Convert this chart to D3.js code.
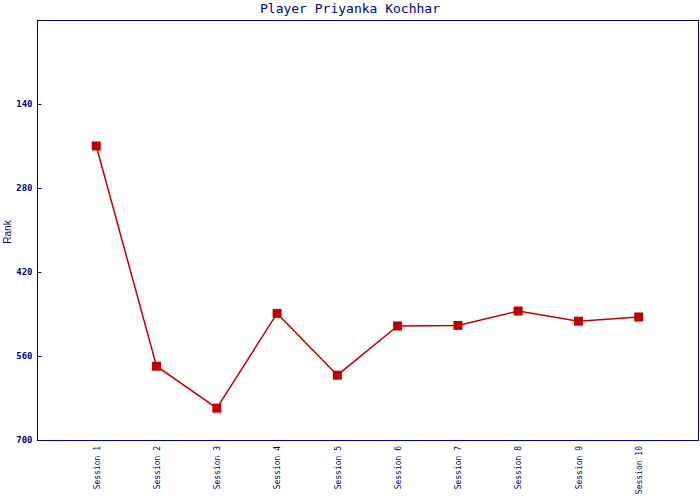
<!DOCTYPE html>
<html>
<head>
<meta charset="utf-8">
<script src="https://cdn.jsdelivr.net/npm/d3@7"></script>
<style>
  body { margin: 0; background: #fff; }
  svg { display: block; }
</style>
</head>
<body>
<svg id="chart" width="700" height="500"></svg>
<script>
const title = "Player Priyanka Kochhar";
const yLabel = "Rank";
const sessions = ["Session 1","Session 2","Session 3","Session 4","Session 5","Session 6","Session 7","Session 8","Session 9","Session 10"];
const ranks = [210, 577, 647, 489, 592, 510, 509, 485, 502, 495];
const yTicks = [140, 280, 420, 560, 700];

const W = 700, H = 500;
const m = { left: 37, right: 1, top: 20, bottom: 60 };
const svg = d3.select("#chart");
const navy = "#000080";
const red = "#c00000";

const x = d3.scaleLinear().domain([0, sessions.length + 1]).range([m.left - 1, W - m.right]);
const y = d3.scaleLinear().domain([0, 700]).range([m.top, H - m.bottom]);

// frame
svg.append("rect")
  .attr("x", m.left + 0.5).attr("y", m.top + 0.5)
  .attr("width", W - m.right - m.left - 1).attr("height", H - m.bottom - m.top)
  .attr("fill", "none").attr("stroke", navy).attr("stroke-width", 1);

// y axis
const yAxis = d3.axisLeft(y).tickValues(yTicks).tickSize(-4).tickPadding(5);
const gy = svg.append("g").attr("transform", `translate(${m.left + 0.5},0)`).call(yAxis);
gy.select(".domain").remove();
gy.selectAll(".tick line").attr("stroke", navy);
gy.selectAll(".tick text")
  .attr("fill", navy)
  .attr("x", -5)
  .style("font-family", "'DejaVu Sans Mono', monospace")
  .style("font-size", "9px")
  .style("font-weight", "bold");

// x labels
const xAxis = d3.axisBottom(x).tickValues(d3.range(1, sessions.length + 1))
  .tickFormat((d) => sessions[d - 1]).tickSize(0);
const gx = svg.append("g").attr("transform", `translate(0,${H - m.bottom})`).call(xAxis);
gx.select(".domain").remove();
gx.selectAll(".tick text")
  .attr("fill", navy)
  .attr("transform", "rotate(-90)")
  .attr("x", -6).attr("y", 0).attr("dy", "0.35em")
  .attr("text-anchor", "end")
  .style("font-family", "'DejaVu Sans Mono', monospace")
  .style("font-size", "8px");

// title
svg.append("text")
  .attr("x", W / 2).attr("y", 13)
  .attr("text-anchor", "middle")
  .attr("fill", navy)
  .style("font-family", "'DejaVu Sans Mono', monospace")
  .style("font-size", "13px")
  .text(title);

// y label
svg.append("text")
  .attr("transform", `translate(11,${(m.top + H - m.bottom) / 2 + 2}) rotate(-90)`)
  .attr("text-anchor", "middle")
  .attr("fill", navy)
  .style("font-family", "'Liberation Sans', Arial, sans-serif")
  .style("font-size", "10px")
  .text(yLabel);

// line
const line = d3.line().x((d, i) => x(i + 1)).y((d) => y(d));
svg.append("path")
  .datum(ranks)
  .attr("d", line)
  .attr("fill", "none")
  .attr("stroke", red)
  .attr("stroke-width", 1.5);

// markers
svg.selectAll("rect.mk")
  .data(ranks)
  .join("rect")
  .attr("class", "mk")
  .attr("x", (d, i) => x(i + 1) - 4.5)
  .attr("y", (d) => y(d) - 4.5)
  .attr("width", 9).attr("height", 9)
  .attr("fill", red);
</script>
</body>
</html>
